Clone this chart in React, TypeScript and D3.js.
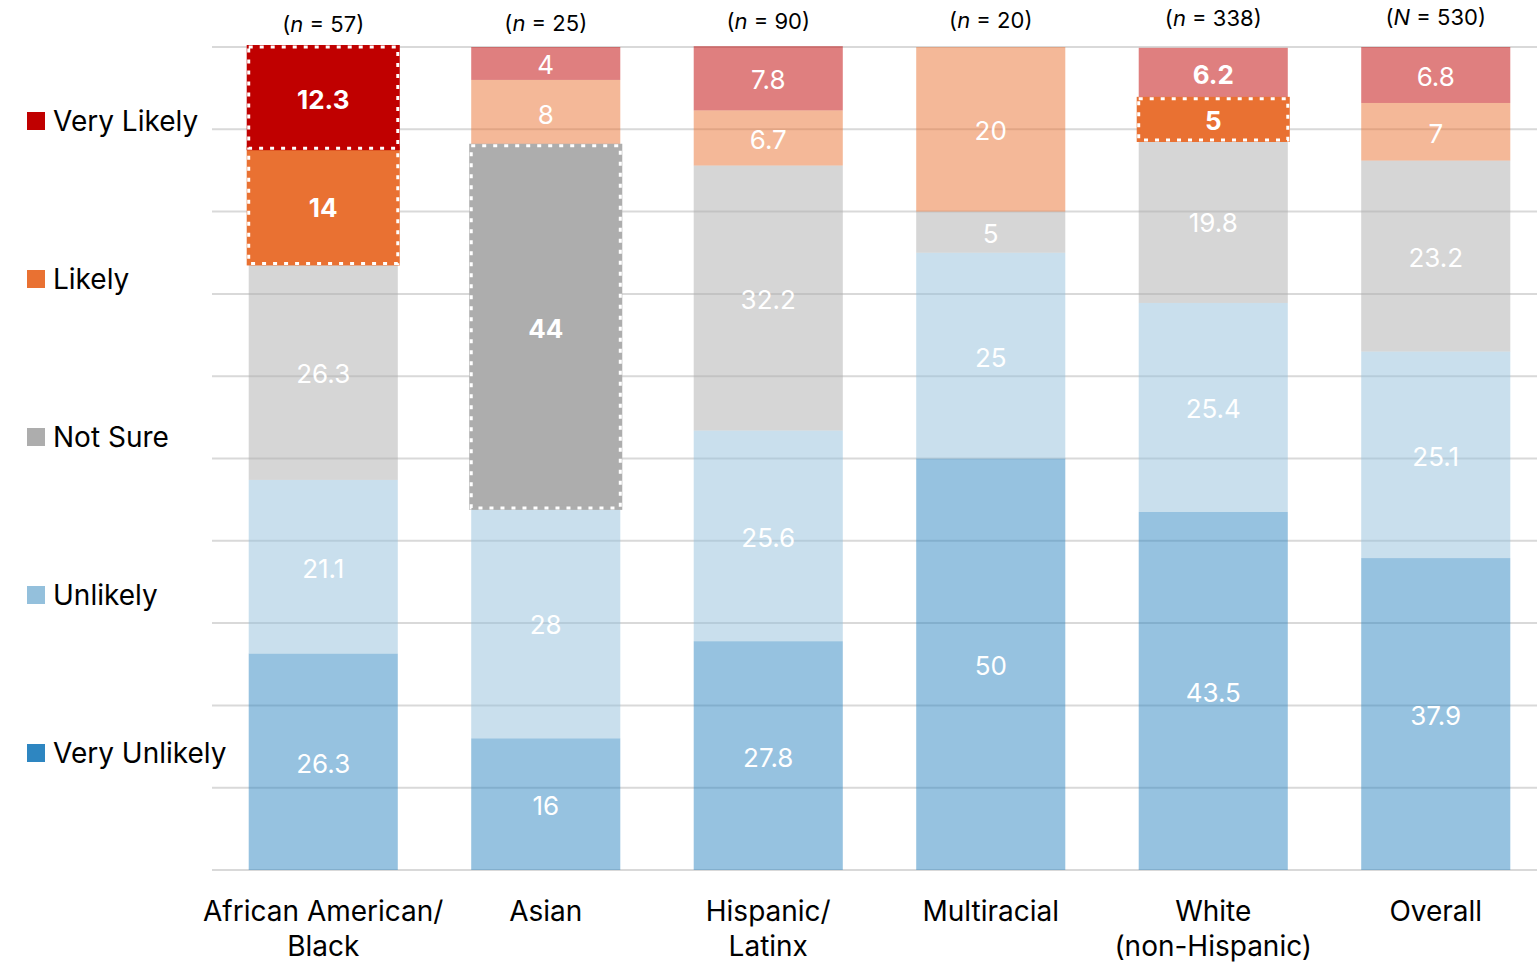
import { useMemo } from "react";
import * as d3 from "d3";

const categories = ["African American/\nBlack", "Asian", "Hispanic/\nLatinx", "Multiracial", "White\n(non-Hispanic)", "Overall"];
const sampleLetters = ["n", "n", "n", "n", "n", "N"];
const sampleSizes = [57, 25, 90, 20, 338, 530];

// stacked bottom to top
const keys = ["Very Unlikely", "Unlikely", "Not Sure", "Likely", "Very Likely"];
const veryUnlikely = [26.3, 16, 27.8, 50, 43.5, 37.9];
const unlikely = [21.1, 28, 25.6, 25, 25.4, 25.1];
const notSure = [26.3, 44, 32.2, 5, 19.8, 23.2];
const likely = [14, 8, 6.7, 20, 5, 7];
const veryLikely = [12.3, 4, 7.8, 0, 6.2, 6.8];

const colors = ["#2e86c1", "#94c0dc", "#adadad", "#e97132", "#c00000"];

// [category index, key] of emphasised segments
const highlighted = [[0, "Very Likely"], [0, "Likely"], [1, "Not Sure"], [4, "Likely"]];
const boldLabels = [[0, "Very Likely"], [0, "Likely"], [1, "Not Sure"], [4, "Likely"], [4, "Very Likely"]];

const font = "Inter, 'Noto Sans', sans-serif";

export default function App() {
    const width = 1537;
    const height = 964;
    const left = 212;
    const top = 47;
    const bottom = 870;

    const rows = useMemo(
        () =>
            categories.map((c, i) => ({
                cat: c,
                "Very Unlikely": veryUnlikely[i],
                Unlikely: unlikely[i],
                "Not Sure": notSure[i],
                Likely: likely[i],
                "Very Likely": veryLikely[i],
            })),
        []
    );

    const series = useMemo(() => d3.stack<any>().keys(keys)(rows), [rows]);

    const x = d3
        .scaleBand()
        .domain(categories)
        .range([left, left + 6 * 222.5])
        .paddingInner(0.33)
        .paddingOuter(0.165);
    const y = d3.scaleLinear().domain([0, 100]).range([bottom, top]);
    const color = d3.scaleOrdinal<string, string>().domain(keys).range(colors);
    const cx = (c: string) => (x(c) as number) + x.bandwidth() / 2;

    const isIn = (list: any[], i: number, k: string) => list.some((h) => h[0] === i && h[1] === k);

    const legendY = d3.scalePoint().domain([...keys].reverse()).range([121, 753]);

    return (
        <svg width={width} height={height} style={{ position: "absolute", left: 0, top: 0, background: "#fff" }}>
            {y.ticks(10).map((t) => (
                <line key={t} x1={left} x2={width} y1={y(t)} y2={y(t)} stroke="#d9d9d9" strokeWidth={2} />
            ))}

            {series.map((s) =>
                s.map((d, i) => {
                    if (d[1] - d[0] <= 0 || isIn(highlighted, i, s.key)) return null;
                    return (
                        <rect
                            key={s.key + i}
                            x={x(categories[i])}
                            y={y(d[1])}
                            width={x.bandwidth()}
                            height={y(d[0]) - y(d[1])}
                            fill={color(s.key)}
                            fillOpacity={0.5}
                        />
                    );
                })
            )}

            {series.map((s) =>
                s.map((d, i) => {
                    if (!isIn(highlighted, i, s.key)) return null;
                    const props = {
                        x: x(categories[i]),
                        y: y(d[1]),
                        width: x.bandwidth(),
                        height: y(d[0]) - y(d[1]),
                    };
                    return (
                        <g key={"h" + s.key + i}>
                            <rect {...props} fill={color(s.key)} stroke={color(s.key)} strokeWidth={4} />
                            <rect {...props} fill="none" stroke="#fff" strokeWidth={3} strokeDasharray="4 7" />
                        </g>
                    );
                })
            )}

            {series.map((s) =>
                s.map((d, i) => {
                    const v = d[1] - d[0];
                    if (v <= 0) return null;
                    return (
                        <text
                            key={"t" + s.key + i}
                            x={cx(categories[i])}
                            y={y((d[0] + d[1]) / 2)}
                            dy="0.42em"
                            textAnchor="middle"
                            fill="#fff"
                            fontFamily={font}
                            fontSize={26}
                            fontWeight={isIn(boldLabels, i, s.key) ? 700 : 400}
                        >
                            {rows[i][s.key as keyof (typeof rows)[0]]}
                        </text>
                    );
                })
            )}

            {categories.map((c, i) => (
                <text
                    key={"n" + c}
                    x={cx(c)}
                    y={32 - i * 1.4}
                    textAnchor="middle"
                    fontFamily={font}
                    fontSize={22}
                    fill="#000"
                >
                    (<tspan fontStyle="italic">{sampleLetters[i]}</tspan> = {sampleSizes[i]})
                </text>
            ))}

            {categories.map((c) => (
                <text key={"c" + c} x={cx(c)} y={921} textAnchor="middle" fontFamily={font} fontSize={28} fill="#000">
                    {c.split("\n").map((line, j) => (
                        <tspan key={j} x={cx(c)} dy={j === 0 ? 0 : 35}>
                            {line}
                        </tspan>
                    ))}
                </text>
            ))}

            {keys.map((k) => (
                <g key={"l" + k} transform={`translate(27, ${legendY(k)})`}>
                    <rect x={0} y={-9} width={18} height={18} fill={color(k)} />
                    <text x={26} y={0} dy="0.35em" fontFamily={font} fontSize={28} fill="#000">
                        {k}
                    </text>
                </g>
            ))}
        </svg>
    );
}
